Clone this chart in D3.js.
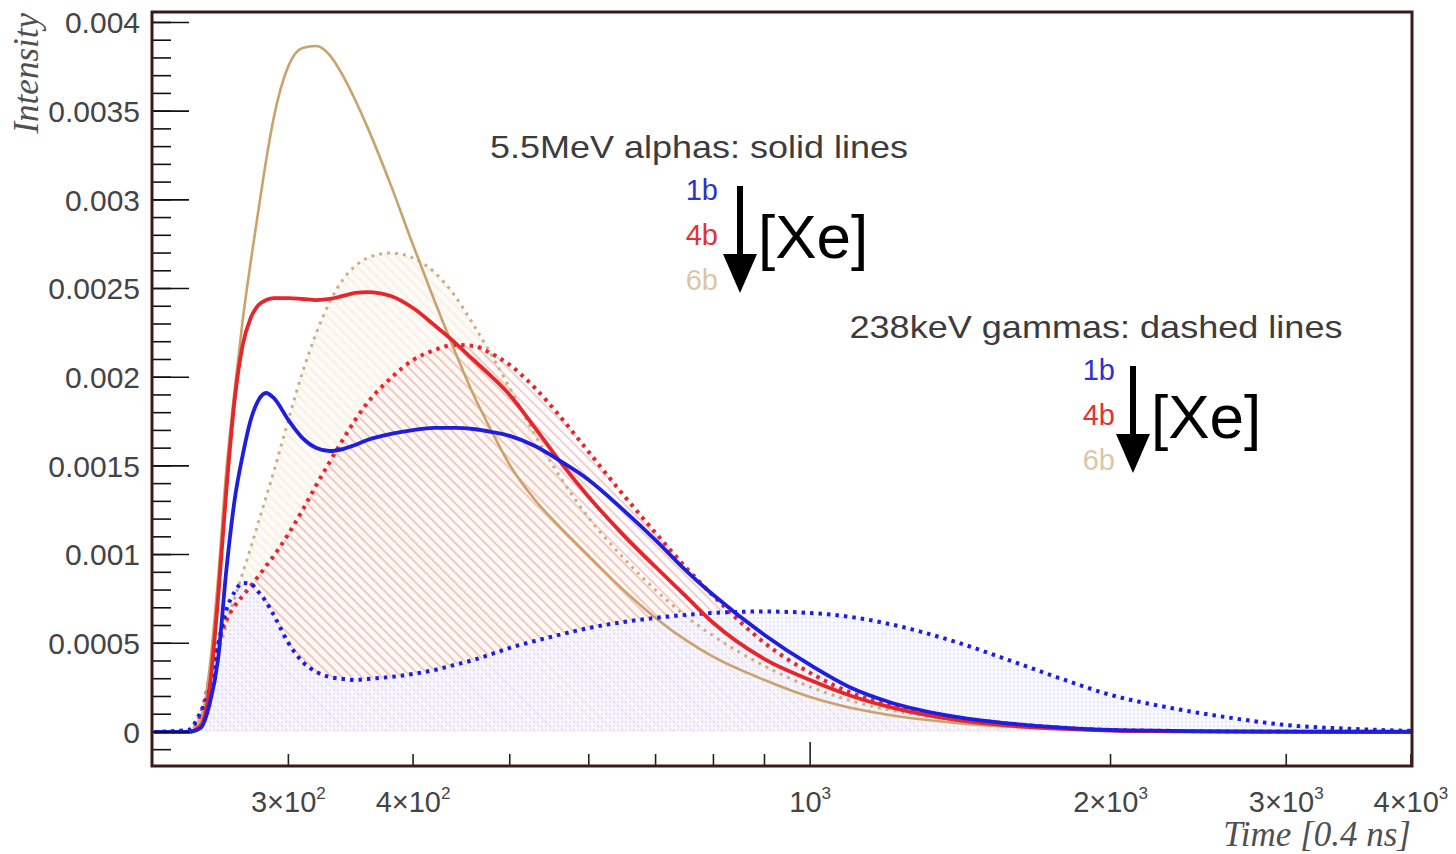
<!DOCTYPE html>
<html>
<head>
<meta charset="utf-8">
<script src="https://cdn.jsdelivr.net/npm/d3@7"></script>
<style>
    body { margin: 0; background: #ffffff; }
    text { font-family: "Liberation Sans", Arial, Helvetica, sans-serif; }
</style>
</head>
<body>
<div id="chart"></div>
<script>
// Time bins [0.4 ns]
const timeBins = [220, 238, 245, 250, 255, 260, 265, 270, 275, 280, 285, 290, 300, 310, 320, 330, 340, 350, 360, 380,
    400, 420, 440, 460, 480, 500, 530, 560, 600, 650, 700, 750, 800, 900, 1000, 1100, 1200, 1400, 1600, 1800,
    2000, 2300, 2600, 3000, 3500, 4000];

// Intensities in units of 1e-4
const UNIT = 1e-4;

// 5.5 MeV alphas (solid)
const alpha1b = [0, 0, 0.23, 1.52, 4.06, 9.13, 13.08, 15.61, 17.59, 18.71, 19.11, 18.83, 17.59, 16.57, 16.01, 15.84,
    15.95, 16.18, 16.46, 16.80, 17.02, 17.14, 17.14, 17.08, 16.91, 16.69, 16.12, 15.33, 14.21, 12.51, 10.82, 9.13,
    7.72, 5.47, 3.78, 2.48, 1.69, 0.85, 0.45, 0.23, 0.11, 0.06, 0.03, 0.02, 0.01, 0.01];
const alpha4b = [0, 0, 0.34, 2.37, 7.44, 13.64, 18.71, 21.82, 23.34, 24.07, 24.35, 24.46, 24.46, 24.41, 24.35, 24.41,
    24.58, 24.75, 24.80, 24.58, 23.90, 22.94, 21.98, 20.97, 20.01, 19.00, 17.14, 15.33, 13.25, 11.10, 9.30, 7.67,
    6.14, 4.11, 2.93, 2.03, 1.41, 0.68, 0.34, 0.17, 0.08, 0.04, 0.02, 0.01, 0, 0];
const alpha6b = [0, 0, 0.56, 3.49, 8.57, 14.77, 19.28, 23.22, 26.49, 29.43, 32.24, 34.61, 37.54, 38.56, 38.67, 38.16,
    37.03, 35.63, 34.10, 30.83, 27.45, 24.35, 21.53, 19.00, 16.91, 15.05, 13.08, 11.61, 9.92, 8.00, 6.43, 5.19,
    4.23, 2.93, 1.97, 1.35, 0.96, 0.51, 0.28, 0.17, 0.08, 0.04, 0.02, 0.01, 0, 0];

// 238 keV gammas (dashed, filled)
const gamma1b = [0, 0.11, 1.13, 2.37, 4.90, 6.88, 7.89, 8.40, 8.34, 7.89, 7.33, 6.60, 5.02, 3.95, 3.38, 3.10,
    2.99, 2.93, 2.99, 3.10, 3.27, 3.49, 3.78, 4.06, 4.40, 4.74, 5.13, 5.47, 5.86, 6.20, 6.43, 6.60,
    6.71, 6.79, 6.71, 6.48, 6.09, 5.07, 3.95, 2.93, 2.09, 1.35, 0.85, 0.39, 0.17, 0.06];
const gamma4b = [0, 0.06, 0.96, 2.93, 4.90, 6.31, 7.10, 7.67, 8.23, 8.79, 9.36, 9.92, 11.16, 12.51, 13.92, 15.22,
    16.46, 17.59, 18.55, 19.95, 20.97, 21.53, 21.82, 21.76, 21.31, 20.69, 19.39, 17.87, 15.78, 13.36, 11.22, 9.30,
    7.67, 5.02, 3.33, 2.20, 1.52, 0.79, 0.45, 0.23, 0.11, 0.06, 0.03, 0.02, 0.01, 0];
const gamma6b = [0, 0.06, 0.79, 2.37, 4.34, 6.03, 7.55, 8.96, 10.37, 11.84, 13.25, 14.66, 17.59, 20.29, 22.49, 24.24,
    25.48, 26.27, 26.72, 27.00, 26.72, 25.93, 24.63, 22.94, 21.20, 19.39, 16.74, 14.49, 12.06, 9.81, 8.00, 6.54,
    5.41, 3.72, 2.54, 1.75, 1.24, 0.68, 0.39, 0.23, 0.11, 0.06, 0.03, 0.01, 0, 0];

// Axis ticks and labels
const yTicks = [0, 0.0005, 0.001, 0.0015, 0.002, 0.0025, 0.003, 0.0035, 0.004];
const yTickLabels = ['0', '0.0005', '0.001', '0.0015', '0.002', '0.0025', '0.003', '0.0035', '0.004'];
const xMinorTicks = [300, 400, 500, 600, 700, 800, 900, 2000, 3000, 4000];
const xMajorTicks = [1000];
const xLabelTicks = [300, 400, 1000, 2000, 3000, 4000];
const xLabelMantissa = ['3×', '4×', '', '2×', '3×', '4×'];
const xLabelExponent = ['2', '2', '3', '3', '3', '3'];

const width = 1456,
    height = 854,
    frame = {left: 152, right: 1412, top: 12, bottom: 766};

const colors = {
    blue: '#1e1ee0',
    red: '#e6262b',
    tan: '#c9a26c',
    tanDash: '#cfae86',
    frame: '#3a1a1a',
    label: '#444444'
};

const serif = '"Liberation Serif", "Times New Roman", serif';

let svg = d3.select('#chart')
    .append('svg')
    .attr('width', width)
    .attr('height', height);

let x = d3.scaleLog().domain([219, 4010]).range([frame.left, frame.right]);
let y = d3.scaleLinear().domain([-0.000192, 0.004059]).range([frame.bottom, frame.top]);

let defs = svg.append('defs');

defs.append('clipPath')
    .attr('id', 'plotClip')
    .append('rect')
    .attr('x', frame.left)
    .attr('y', frame.top)
    .attr('width', frame.right - frame.left)
    .attr('height', frame.bottom - frame.top);

function hatch(id, stroke, background) {
    let p = defs.append('pattern')
        .attr('id', id)
        .attr('patternUnits', 'userSpaceOnUse')
        .attr('width', 7)
        .attr('height', 7)
        .attr('patternTransform', 'rotate(-45)');
    if (background) {
        p.append('rect').attr('width', 7).attr('height', 7).attr('fill', background);
    }
    p.append('line')
        .attr('x1', 1).attr('y1', 0)
        .attr('x2', 1).attr('y2', 7)
        .attr('stroke', stroke)
        .attr('stroke-width', 1.2);
}

hatch('hatchTan', '#f4eadc', '#fefbf7');
hatch('hatchRed', '#f4aaaa', null);

let dots = defs.append('pattern')
    .attr('id', 'dotsBlue')
    .attr('patternUnits', 'userSpaceOnUse')
    .attr('width', 4)
    .attr('height', 4);
dots.append('rect').attr('width', 4).attr('height', 4).attr('fill', '#f6f6ff');
dots.append('circle').attr('cx', 2).attr('cy', 2).attr('r', 0.8).attr('fill', '#c8c8f4');

let plot = svg.append('g').attr('clip-path', 'url(#plotClip)');

function points(values) {
    return timeBins.map((t, i) => ({t: t, v: values[i] * UNIT}));
}

let area = d3.area()
    .x(d => x(d.t))
    .y0(y(0))
    .y1(d => y(d.v))
    .curve(d3.curveMonotoneX);

let line = d3.line()
    .x(d => x(d.t))
    .y(d => y(d.v))
    .curve(d3.curveMonotoneX);

// Hatched fills under the gamma curves
plot.append('path').datum(points(gamma6b)).attr('d', area).attr('fill', 'url(#hatchTan)');
plot.append('path').datum(points(gamma4b)).attr('d', area).attr('fill', 'url(#hatchRed)');
plot.append('path').datum(points(gamma1b)).attr('d', area).attr('fill', 'url(#dotsBlue)').attr('opacity', 0.8);

let series = [
    {values: gamma6b, color: colors.tanDash, width: 3, dash: '3 5'},
    {values: gamma4b, color: colors.red, width: 4, dash: '3.5 5'},
    {values: alpha6b, color: colors.tan, width: 2.6, dash: null},
    {values: gamma1b, color: colors.blue, width: 4, dash: '3.5 5'},
    {values: alpha4b, color: colors.red, width: 3.8, dash: null},
    {values: alpha1b, color: colors.blue, width: 3.8, dash: null}
];

plot.selectAll('.series')
    .data(series)
    .enter()
    .append('path')
    .attr('class', 'series')
    .attr('d', s => line(points(s.values)))
    .attr('fill', 'none')
    .attr('stroke', s => s.color)
    .attr('stroke-width', s => s.width)
    .attr('stroke-dasharray', s => s.dash)
    .attr('stroke-linejoin', 'round');

// Y axis ticks (major every 0.0005, minor every 0.0001)
let yMinor = d3.range(-1, 41).map(i => i * 0.0001);
svg.selectAll('.yminor')
    .data(yMinor)
    .enter()
    .append('line')
    .attr('class', 'yminor')
    .attr('x1', frame.left)
    .attr('x2', frame.left + 19)
    .attr('y1', d => y(d))
    .attr('y2', d => y(d))
    .attr('stroke', '#111')
    .attr('stroke-width', 1.6);

svg.selectAll('.ymajor')
    .data(yTicks)
    .enter()
    .append('line')
    .attr('class', 'ymajor')
    .attr('x1', frame.left)
    .attr('x2', frame.left + 37)
    .attr('y1', d => y(d))
    .attr('y2', d => y(d))
    .attr('stroke', '#111')
    .attr('stroke-width', 1.6);

svg.selectAll('.ylabel')
    .data(yTicks)
    .enter()
    .append('text')
    .attr('class', 'ylabel')
    .attr('x', 140)
    .attr('y', d => y(d))
    .attr('dy', '0.36em')
    .attr('text-anchor', 'end')
    .attr('font-size', 30)
    .attr('fill', colors.label)
    .text((d, i) => yTickLabels[i]);

// X axis ticks, pointing up from the bottom of the frame
svg.selectAll('.xminor')
    .data(xMinorTicks)
    .enter()
    .append('line')
    .attr('class', 'xminor')
    .attr('x1', d => x(d))
    .attr('x2', d => x(d))
    .attr('y1', frame.bottom)
    .attr('y2', frame.bottom - 12)
    .attr('stroke', '#222')
    .attr('stroke-width', 1.6);

svg.selectAll('.xmajor')
    .data(xMajorTicks)
    .enter()
    .append('line')
    .attr('class', 'xmajor')
    .attr('x1', d => x(d))
    .attr('x2', d => x(d))
    .attr('y1', frame.bottom)
    .attr('y2', frame.bottom - 24)
    .attr('stroke', '#222')
    .attr('stroke-width', 1.6);

let xl = svg.selectAll('.xlabel')
    .data(xLabelTicks)
    .enter()
    .append('text')
    .attr('class', 'xlabel')
    .attr('x', d => x(d))
    .attr('y', 812)
    .attr('text-anchor', 'middle')
    .attr('font-size', 29)
    .attr('fill', colors.label);
xl.append('tspan').text((d, i) => xLabelMantissa[i] + '10');
xl.append('tspan')
    .attr('dy', -13)
    .attr('font-size', 17)
    .text((d, i) => xLabelExponent[i]);

// Frame
svg.append('rect')
    .attr('x', frame.left)
    .attr('y', frame.top)
    .attr('width', frame.right - frame.left)
    .attr('height', frame.bottom - frame.top)
    .attr('fill', 'none')
    .attr('stroke', colors.frame)
    .attr('stroke-width', 3);

// Axis titles
svg.append('text')
    .attr('transform', 'translate(38,13) rotate(-90)')
    .attr('text-anchor', 'end')
    .style('font-family', serif)
    .style('font-style', 'italic')
    .attr('font-size', 35)
    .attr('fill', '#505050')
    .text('Intensity');

svg.append('text')
    .attr('x', 1411)
    .attr('y', 846)
    .attr('text-anchor', 'end')
    .style('font-family', serif)
    .style('font-style', 'italic')
    .attr('font-size', 35)
    .attr('fill', '#505050')
    .text('Time [0.4 ns]');

// Annotation blocks
const pressureLabels = ['1b', '4b', '6b'];
const pressureColors = ['#3030d4', '#e23232', '#dcc6a6'];

function drawNote(title, titleX, titleY, titleLen, colX, arrowX) {
    let g = svg.append('g');
    g.append('text')
        .attr('x', titleX)
        .attr('y', titleY)
        .attr('text-anchor', 'middle')
        .attr('font-size', 32)
        .attr('fill', '#3c3c3c')
        .attr('textLength', titleLen)
        .attr('lengthAdjust', 'spacingAndGlyphs')
        .text(title);

    g.selectAll('.plabel')
        .data(pressureLabels)
        .enter()
        .append('text')
        .attr('x', colX)
        .attr('y', (d, i) => titleY + 42 + i * 45)
        .attr('text-anchor', 'end')
        .attr('font-size', 29)
        .attr('fill', (d, i) => pressureColors[i])
        .text(d => d);

    let top = titleY + 28,
        headTop = titleY + 96,
        tip = titleY + 135;
    g.append('line')
        .attr('x1', arrowX).attr('x2', arrowX)
        .attr('y1', top).attr('y2', headTop + 2)
        .attr('stroke', '#000')
        .attr('stroke-width', 6);
    g.append('path')
        .attr('d', 'M' + (arrowX - 17) + ',' + headTop + 'L' + (arrowX + 17) + ',' + headTop + 'L' + arrowX + ',' + tip + 'Z')
        .attr('fill', '#000');

    g.append('text')
        .attr('x', arrowX + 18)
        .attr('y', titleY + 100)
        .attr('font-size', 62)
        .attr('fill', '#000')
        .text('[Xe]');
}

drawNote('5.5MeV alphas: solid lines', 699, 158, 418, 718, 740);
drawNote('238keV gammas: dashed lines', 1096, 338, 493, 1115, 1133);
</script>
</body>
</html>
